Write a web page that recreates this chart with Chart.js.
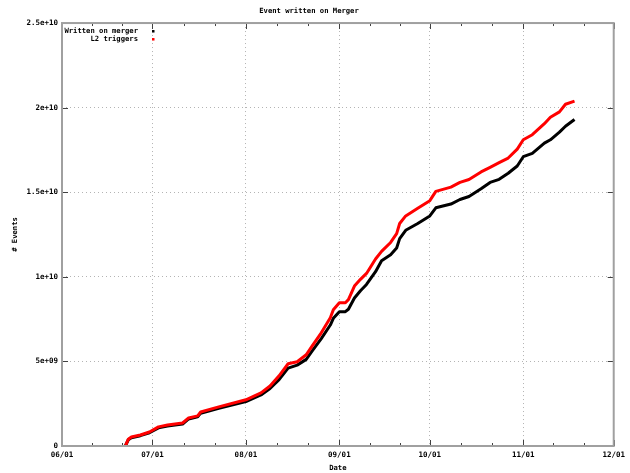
<!DOCTYPE html>
<html>
<head>
<meta charset="utf-8">
<script src="https://cdn.jsdelivr.net/npm/chart.js@4.4.1/dist/chart.umd.min.js"></script>
<style>
  html, body { margin: 0; padding: 0; background: #fff; }
  #wrap { width: 630px; height: 473px; }
</style>
</head>
<body>
<div id="wrap"><canvas id="chartMerger"></canvas></div>
<script>
// days counted from 06/01
const days = [
  21, 22, 23, 26, 29, 32, 35, 40, 42, 45, 46, 52, 61, 66, 69, 72, 75, 78, 81, 83,
  86, 89, 90, 92, 94, 95, 97, 99, 101, 104, 106, 109, 111, 112, 114, 118, 122, 124, 129, 132,
  135, 139, 142, 145, 148, 151, 153, 156, 160, 162, 165, 167, 170,
];
// values in units of 1e9 events
const written = [
  0.0, 0.37, 0.49, 0.61, 0.78, 1.07, 1.18, 1.3, 1.6, 1.72, 1.94, 2.23, 2.63, 3.02, 3.4, 3.92, 4.6, 4.78, 5.12, 5.62,
  6.35, 7.15, 7.55, 7.94, 7.94, 8.08, 8.75, 9.18, 9.55, 10.3, 10.95, 11.3, 11.7, 12.26, 12.75, 13.15, 13.6, 14.08, 14.3, 14.57,
  14.75, 15.2, 15.58, 15.76, 16.12, 16.55, 17.1, 17.3, 17.9, 18.1, 18.55, 18.9, 19.3,
];
const l2Triggers = [
  0.0, 0.4, 0.53, 0.65, 0.83, 1.13, 1.24, 1.36, 1.66, 1.78, 2.01, 2.31, 2.73, 3.14, 3.55, 4.15, 4.86, 4.98, 5.39, 5.92,
  6.69, 7.58, 8.05, 8.47, 8.47, 8.65, 9.45, 9.85, 10.2, 11.05, 11.5, 12.03, 12.55, 13.15, 13.6, 14.05, 14.5, 15.05, 15.3, 15.58,
  15.75, 16.2, 16.47, 16.75, 17.02, 17.55, 18.1, 18.4, 19.05, 19.43, 19.75, 20.2, 20.38,
];
const monthTicks = [0, 30, 61, 92, 122, 153, 183];
const monthLabels = ["06/01", "07/01", "08/01", "09/01", "10/01", "11/01", "12/01"];
const yTicks = [0, 5e9, 1e10, 1.5e10, 2e10, 2.5e10];
const yTickLabels = ["0", "5e+09", "1e+10", "1.5e+10", "2e+10", "2.5e+10"];

const FONT = '"DejaVu Sans Mono", monospace';

const toPoints = (vals) => days.map((d, i) => ({ x: d, y: vals[i] * 1e9 }));

// gnuplot style frame, inward ticks and key
const gnuplotFrame = {
  id: "gnuplotFrame",
  afterDraw(chart) {
    const { ctx, chartArea: a, scales } = chart;
    ctx.save();
    ctx.strokeStyle = "#404040";
    ctx.lineWidth = 1;
    ctx.beginPath();
    monthTicks.forEach((v, i) => {
      const x = Math.round(scales.x.getPixelForValue(v)) + 0.5;
      ctx.moveTo(x, a.bottom); ctx.lineTo(x, a.bottom - 6);
      ctx.moveTo(x, a.top); ctx.lineTo(x, a.top + 6);
      if (i < monthTicks.length - 1) {
        const step = (monthTicks[i + 1] - v) / 3;
        for (let k = 1; k < 3; k++) {
          const xm = Math.round(scales.x.getPixelForValue(v + step * k)) + 0.5;
          ctx.moveTo(xm, a.bottom); ctx.lineTo(xm, a.bottom - 3);
          ctx.moveTo(xm, a.top); ctx.lineTo(xm, a.top + 3);
        }
      }
    });
    yTicks.forEach((v) => {
      const y = Math.round(scales.y.getPixelForValue(v)) + 0.5;
      ctx.moveTo(a.left, y); ctx.lineTo(a.left + 6, y);
      ctx.moveTo(a.right, y); ctx.lineTo(a.right - 6, y);
    });
    ctx.stroke();

    ctx.strokeStyle = "#a0a0a0";
    ctx.lineWidth = 2;
    ctx.strokeRect(a.left, a.top, a.right - a.left, a.bottom - a.top);

    // key
    ctx.font = "bold 7.2px " + FONT;
    ctx.textAlign = "right";
    ctx.textBaseline = "middle";
    chart.data.datasets.forEach((ds, i) => {
      const y = a.top + 8 + i * 8;
      ctx.fillStyle = "#000";
      ctx.fillText(ds.label, a.left + 76, y);
      ctx.fillStyle = ds.borderColor;
      ctx.fillRect(a.left + 90, y - 1, 2.5, 2.5);
    });
    ctx.restore();
  },
};

const merger = document.getElementById("chartMerger");

new Chart(merger, {
  type: "scatter",
  data: {
    datasets: [
      {
        label: "Written on merger",
        data: toPoints(written),
        showLine: true,
        borderColor: "#000000",
        backgroundColor: "#000000",
        borderWidth: 3,
        borderJoinStyle: "round",
        pointRadius: 0,
        order: 1,
      },
      {
        label: "L2 triggers",
        data: toPoints(l2Triggers),
        showLine: true,
        borderColor: "#ff0000",
        backgroundColor: "#ff0000",
        borderWidth: 3,
        borderJoinStyle: "round",
        pointRadius: 0,
        order: 0,
      },
    ],
  },
  options: {
    responsive: true,
    maintainAspectRatio: false,
    animation: false,
    layout: { padding: { right: 12 } },
    plugins: {
      legend: { display: false },
      tooltip: { enabled: false },
      title: {
        display: true,
        text: "Event written on Merger",
        color: "#000",
        font: { family: FONT, size: 7.2, weight: "bold" },
        padding: { top: 7, bottom: 7.4 },
      },
    },
    scales: {
      x: {
        type: "linear",
        min: 0,
        max: 183,
        afterFit: (s) => { s.height = 27; },
        afterBuildTicks: (s) => { s.ticks = monthTicks.map((v) => ({ value: v })); },
        grid: { color: "#b4b4b4", drawTicks: false },
        border: { display: false, dash: [1, 3] },
        ticks: {
          color: "#000",
          padding: 5,
          maxRotation: 0,
          font: { family: FONT, size: 7.5, weight: "bold" },
          callback: (v) => monthLabels[monthTicks.indexOf(v)],
        },
        title: {
          display: true,
          text: "Date",
          color: "#000",
          font: { family: FONT, size: 7.2, weight: "bold" },
          padding: { top: 1, bottom: 1 },
        },
      },
      y: {
        min: 0,
        max: 2.5e10,
        afterFit: (s) => { s.width = 62; },
        afterBuildTicks: (s) => { s.ticks = yTicks.map((v) => ({ value: v })); },
        grid: { color: "#b4b4b4", drawTicks: false },
        border: { display: false, dash: [1, 3] },
        ticks: {
          color: "#000",
          padding: 4,
          font: { family: FONT, size: 7.5, weight: "bold" },
          callback: (v) => yTickLabels[yTicks.indexOf(v)],
        },
        title: {
          display: true,
          text: "# Events",
          color: "#000",
          font: { family: FONT, size: 7.2, weight: "bold" },
          padding: { top: 11, bottom: 0 },
        },
      },
    },
  },
  plugins: [gnuplotFrame],
});
</script>
</body>
</html>
